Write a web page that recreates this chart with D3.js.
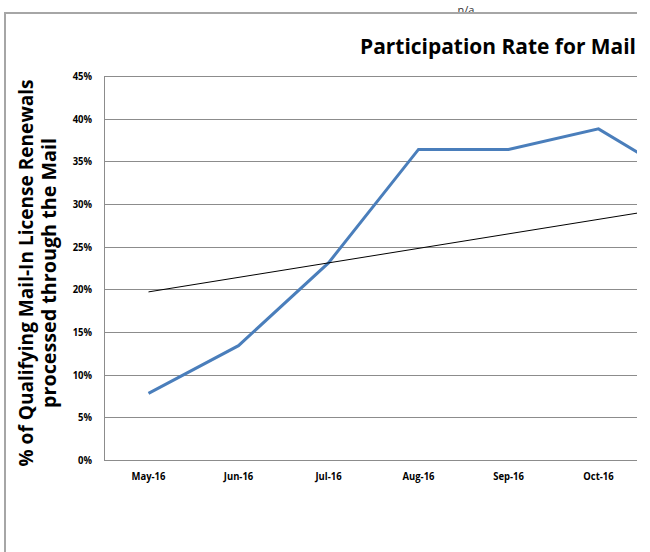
<!DOCTYPE html>
<html>
<head>
<meta charset="utf-8">
<script src="https://cdn.jsdelivr.net/npm/d3@7"></script>
<style>
  html, body { margin: 0; padding: 0; background: #fff; }
  svg { display: block; font-family: "Open Sans", "Noto Sans", sans-serif; }
</style>
</head>
<body>
<svg id="chart" width="650" height="552"></svg>
<script>
// Monthly participation rate (%) for mail-in renewals
const months = ["May-16", "Jun-16", "Jul-16", "Aug-16", "Sep-16", "Oct-16", "Nov-16"];
const rates = [7.8, 13.4, 23.1, 36.4, 36.4, 38.8, 32.5];
// Linear trend value at the first and at the last month
const trendEnds = [19.7, 29.9];
const yTicks = [0, 5, 10, 15, 20, 25, 30, 35, 40, 45];

const svg = d3.select("#chart");
const W = 650, H = 552;
const frame = { left: 5, top: 13, right: 637 };
const plot = { left: 104, top: 76, bottom: 460, step: 90 };

svg.append("defs").append("clipPath").attr("id", "frameClip")
  .append("rect").attr("x", 0).attr("y", 0).attr("width", frame.right).attr("height", H);

const root = svg.append("g").attr("clip-path", "url(#frameClip)");

const x = d3.scaleBand()
  .domain(months)
  .range([plot.left - 0.5, plot.left - 0.5 + plot.step * months.length])
  .paddingInner(0).paddingOuter(0);
const y = d3.scaleLinear().domain([0, 45]).range([plot.bottom, plot.top]);
const cx = d => x(d) + x.bandwidth() / 2;

// set a text to a given length, keeping its height
function setLength(sel, target) {
  sel.attr("textLength", target).attr("lengthAdjust", "spacingAndGlyphs");
}

// small label above the frame
root.append("text")
  .attr("x", 466).attr("y", 13.5)
  .attr("text-anchor", "middle")
  .attr("font-size", 11)
  .attr("fill", "#333")
  .text("n/a");

// outer frame (left and top edges)
root.append("path")
  .attr("d", `M${frame.left},${H} V${frame.top} H${frame.right + 2}`)
  .attr("fill", "none")
  .attr("stroke", "#a6a6a6")
  .attr("stroke-width", 2);

// title
const title = root.append("text")
  .attr("x", 360).attr("y", 54)
  .attr("font-size", 21)
  .attr("font-weight", "bold")
  .attr("fill", "#000")
  .text("Participation Rate for Mail");
setLength(title, 276);

// horizontal gridlines and value labels
const yAxis = d3.axisLeft(y)
  .tickValues(yTicks)
  .tickSize(-W)
  .tickFormat(d => d + "%")
  .tickPadding(12);
const gy = root.append("g")
  .attr("transform", `translate(${plot.left},0)`)
  .call(yAxis);
gy.select(".domain").remove();
gy.selectAll(".tick line")
  .attr("stroke", "#8c8c8c")
  .attr("stroke-width", 1)
  .attr("shape-rendering", "crispEdges");
gy.selectAll(".tick text")
  .attr("font-family", "'Open Sans', sans-serif")
  .attr("font-size", 10.5)
  .attr("font-weight", "bold")
  .attr("fill", "#000")
  .each(function () { setLength(d3.select(this), this.getComputedTextLength() * 0.9); });

// vertical axis line
root.append("line")
  .attr("x1", plot.left).attr("x2", plot.left)
  .attr("y1", plot.top).attr("y2", plot.bottom)
  .attr("stroke", "#8c8c8c")
  .attr("shape-rendering", "crispEdges");

// category labels (only those inside the frame)
const xAxis = d3.axisBottom(x)
  .tickValues(months.filter(m => cx(m) < frame.right))
  .tickSize(0).tickPadding(13);
const gx = root.append("g")
  .attr("transform", `translate(0,${plot.bottom})`)
  .call(xAxis);
gx.select(".domain").remove();
gx.selectAll(".tick text")
  .attr("font-family", "'Open Sans', sans-serif")
  .attr("font-size", 10.5)
  .attr("font-weight", "bold")
  .attr("fill", "#000")
  .each(function () { setLength(d3.select(this), this.getComputedTextLength() * 0.9); });

// data series
const line = d3.line().x((d, i) => cx(months[i])).y(d => y(d));
root.append("path")
  .datum(rates)
  .attr("d", line)
  .attr("fill", "none")
  .attr("stroke", "#4a7ebb")
  .attr("stroke-width", 3)
  .attr("stroke-linejoin", "miter");

// linear trend line
root.append("line")
  .attr("x1", cx(months[0])).attr("y1", y(trendEnds[0]))
  .attr("x2", cx(months[months.length - 1])).attr("y2", y(trendEnds[1]))
  .attr("stroke", "#000")
  .attr("stroke-width", 1);

// vertical axis title (two lines)
const yTitle = root.append("g")
  .attr("transform", `translate(0,273) rotate(-90)`);
const t1 = yTitle.append("text")
  .attr("x", 0).attr("y", 33)
  .attr("text-anchor", "middle")
  .attr("font-size", 19.5)
  .attr("font-weight", "bold")
  .attr("fill", "#000")
  .text("% of Qualifying Mail-In License Renewals");
setLength(t1, 387);
const t2 = yTitle.append("text")
  .attr("x", 0).attr("y", 56)
  .attr("text-anchor", "middle")
  .attr("font-size", 19.5)
  .attr("font-weight", "bold")
  .attr("fill", "#000")
  .text("processed through the Mail");
setLength(t2, 270);
</script>
</body>
</html>
